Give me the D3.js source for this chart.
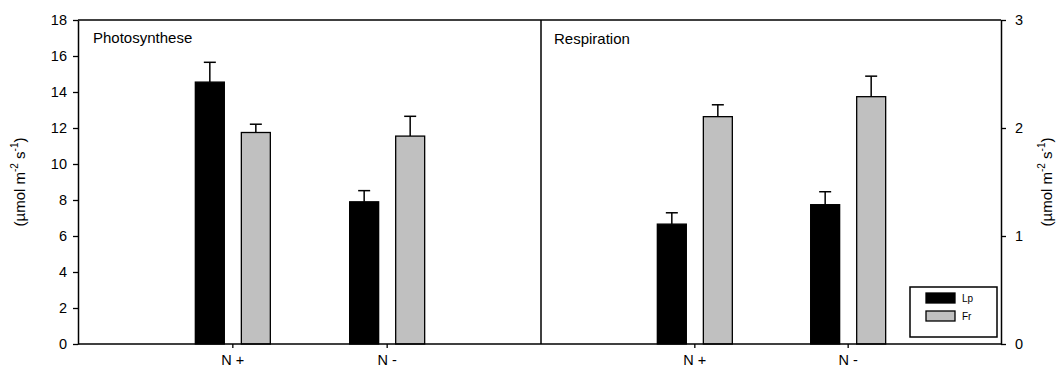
<!DOCTYPE html>
<html>
<head>
<meta charset="utf-8">
<script src="https://cdn.jsdelivr.net/npm/d3@7"></script>
<style>
  body { margin: 0; background: #fff; }
  svg { font-family: "Liberation Sans", Arial, sans-serif; }
</style>
</head>
<body>
<div id="chart"></div>
<script>
// data
var categories = ["N +", "N -"];
var series = ["Lp", "Fr"];
var photoLp = [14.55, 7.9];
var photoLpErr = [1.1, 0.62];
var photoFr = [11.75, 11.55];
var photoFrErr = [0.46, 1.1];
var respLp = [1.11, 1.29];
var respLpErr = [0.105, 0.12];
var respFr = [2.105, 2.29];
var respFrErr = [0.11, 0.19];
var leftTicks = [0, 2, 4, 6, 8, 10, 12, 14, 16, 18];
var rightTicks = [0, 1, 2, 3];
var colors = { Lp: "#000000", Fr: "#c0c0c0" };

function init() {
    var w = 1057, h = 369;
    var left = 78, right = 1001, top = 20, bottom = 344;
    var mid = 541;

    var svg = d3.select("#chart").append("svg")
        .attr("width", w).attr("height", h);

    var yL = d3.scaleLinear().domain([0, 18]).range([bottom, top]);
    var yR = d3.scaleLinear().domain([0, 3]).range([bottom, top]);

    var xL = d3.scalePoint().domain(categories).range([left, mid]).padding(1);
    var xR = d3.scalePoint().domain(categories).range([mid, right]).padding(1);
    var sub = d3.scaleBand().domain(series).range([-37, 38]).paddingInner(0.37);

    // frame
    svg.append("line").attr("x1", left).attr("x2", right).attr("y1", top).attr("y2", top)
        .attr("stroke", "#000").attr("stroke-width", 1.5);
    svg.append("line").attr("x1", mid).attr("x2", mid).attr("y1", top).attr("y2", bottom)
        .attr("stroke", "#000").attr("stroke-width", 1.5);

    function panel(x, y, lp, lpErr, fr, frErr) {
        var rows = [];
        categories.forEach(function (c, i) {
            rows.push({ cat: c, s: "Lp", v: lp[i], e: lpErr[i] });
            rows.push({ cat: c, s: "Fr", v: fr[i], e: frErr[i] });
        });
        var g = svg.append("g");
        // error bars
        rows.forEach(function (d) {
            var cx = x(d.cat) + sub(d.s) + sub.bandwidth() / 2;
            g.append("line").attr("x1", cx).attr("x2", cx)
                .attr("y1", y(d.v)).attr("y2", y(d.v + d.e))
                .attr("stroke", "#000").attr("stroke-width", 1.5);
            g.append("line").attr("x1", cx - 6).attr("x2", cx + 6)
                .attr("y1", y(d.v + d.e)).attr("y2", y(d.v + d.e))
                .attr("stroke", "#000").attr("stroke-width", 1.5);
        });
        g.selectAll("rect").data(rows).enter().append("rect")
            .attr("x", function (d) { return x(d.cat) + sub(d.s); })
            .attr("y", function (d) { return y(d.v); })
            .attr("width", sub.bandwidth())
            .attr("height", function (d) { return y(0) - y(d.v); })
            .attr("fill", function (d) { return colors[d.s]; })
            .attr("stroke", "#000").attr("stroke-width", 1.3);
    }

    panel(xL, yL, photoLp, photoLpErr, photoFr, photoFrErr);
    panel(xR, yR, respLp, respLpErr, respFr, respFrErr);

    // axes
    function styleAxis(g) {
        g.selectAll("path").attr("stroke", "#000").attr("stroke-width", 1.5);
        g.selectAll("line").attr("stroke", "#000").attr("stroke-width", 1.3);
        g.selectAll("text").attr("font-size", "14.5px").attr("fill", "#000")
            .attr("font-family", "Liberation Sans, Arial, sans-serif");
    }

    svg.append("g").attr("transform", "translate(" + left + ",0)")
        .call(d3.axisLeft(yL).tickValues(leftTicks).tickSize(5).tickPadding(6).tickSizeOuter(0))
        .call(styleAxis);
    svg.append("g").attr("transform", "translate(" + right + ",0)")
        .call(d3.axisRight(yR).tickValues(rightTicks).tickFormat(d3.format("d"))
            .tickSize(5).tickPadding(9).tickSizeOuter(0))
        .call(styleAxis);

    var xaxis = svg.append("g").attr("transform", "translate(0," + bottom + ")");
    xaxis.append("line").attr("x1", left).attr("x2", right)
        .attr("stroke", "#000").attr("stroke-width", 1.5);
    [xL, xR].forEach(function (x) {
        var a = xaxis.append("g").call(d3.axisBottom(x).tickSize(4).tickPadding(7).tickSizeOuter(0));
        a.select(".domain").remove();
        styleAxis(a);
    });

    // panel titles
    svg.append("text").attr("x", 93).attr("y", 43).attr("font-size", "15px").text("Photosynthese");
    svg.append("text").attr("x", 554).attr("y", 44).attr("font-size", "15px").text("Respiration");

    // y labels
    function unitLabel(x) {
        var t = svg.append("text")
            .attr("transform", "translate(" + x + "," + ((top + bottom) / 2) + ") rotate(-90)")
            .attr("text-anchor", "middle").attr("font-size", "15px");
        t.append("tspan").text("(\u00b5mol m");
        t.append("tspan").attr("dy", -7).attr("font-size", "10px").text("-2");
        t.append("tspan").attr("dy", 7).text(" s");
        t.append("tspan").attr("dy", -7).attr("font-size", "10px").text("-1");
        t.append("tspan").attr("dy", 7).text(")");
    }
    unitLabel(25);
    unitLabel(1052);

    // legend
    var lg = svg.append("g");
    lg.append("rect").attr("x", 910).attr("y", 287).attr("width", 87).attr("height", 50)
        .attr("fill", "#fff").attr("stroke", "#000").attr("stroke-width", 1.5);
    series.forEach(function (s, i) {
        lg.append("rect").attr("x", 926).attr("y", 293 + i * 18).attr("width", 29).attr("height", 10)
            .attr("fill", colors[s]).attr("stroke", "#000").attr("stroke-width", 1.3);
        lg.append("text").attr("x", 962).attr("y", 302 + i * 18).attr("font-size", "10px").text(s);
    });
}

window.onload = init;
</script>
</body>
</html>
